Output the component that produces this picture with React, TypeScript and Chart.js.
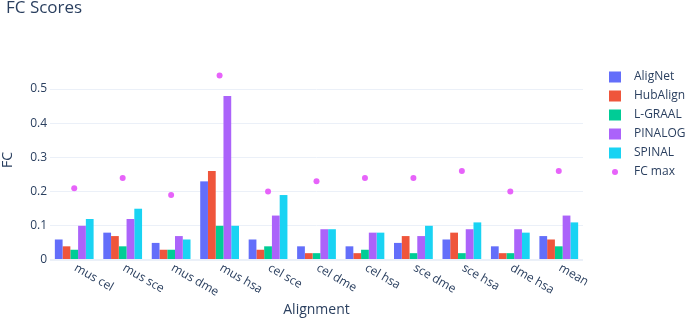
import React, { useEffect, useRef } from "react";
import { Chart, registerables } from "chart.js";

Chart.register(...registerables);

const categories = ["mus cel", "mus sce", "mus dme", "mus hsa", "cel sce", "cel dme", "cel hsa", "sce dme", "sce hsa", "dme hsa", "mean"];
const aligNet = [0.06, 0.08, 0.05, 0.23, 0.06, 0.04, 0.04, 0.05, 0.06, 0.04, 0.07];
const hubAlign = [0.04, 0.07, 0.03, 0.26, 0.03, 0.02, 0.02, 0.07, 0.08, 0.02, 0.06];
const lGraal = [0.03, 0.04, 0.03, 0.10, 0.04, 0.02, 0.03, 0.02, 0.02, 0.02, 0.04];
const pinalog = [0.10, 0.12, 0.07, 0.48, 0.13, 0.09, 0.08, 0.07, 0.09, 0.09, 0.13];
const spinal = [0.12, 0.15, 0.06, 0.10, 0.19, 0.09, 0.08, 0.10, 0.11, 0.08, 0.11];
const fcMax = [0.21, 0.24, 0.19, 0.54, 0.20, 0.23, 0.24, 0.24, 0.26, 0.20, 0.26];
const yTicks = [0, 0.1, 0.2, 0.3, 0.4, 0.5];
const yTickLabels = ["0", "0.1", "0.2", "0.3", "0.4", "0.5"];

const TITLE = "FC Scores";
const X_TITLE = "Alignment";
const Y_TITLE = "FC";

const FONT = '"Open Sans", verdana, arial, sans-serif';
const TEXT = "#2a3f5f";
const GRID = "#ebf0f8";

const decor = {
  id: "decor",
  afterDraw(chart: any) {
    const ctx = chart.ctx;
    const area = chart.chartArea;
    const xs = chart.scales.x;
    ctx.save();
    ctx.fillStyle = TEXT;

    // Title
    ctx.font = `17px ${FONT}`;
    ctx.textAlign = "left";
    ctx.textBaseline = "alphabetic";
    ctx.fillText(TITLE, 6, 13);

    // X tick labels rotated 30deg
    ctx.font = `12px ${FONT}`;
    categories.forEach((c, i) => {
      const x = xs.getPixelForTick(i);
      ctx.save();
      ctx.translate(x + 1, area.bottom + 7);
      ctx.rotate(Math.PI / 6);
      ctx.textAlign = "left";
      ctx.textBaseline = "middle";
      ctx.fillText(c, 0, 0);
      ctx.restore();
    });

    // X title
    ctx.font = `14px ${FONT}`;
    ctx.textAlign = "center";
    ctx.textBaseline = "alphabetic";
    ctx.fillText(X_TITLE, (area.left + area.right) / 2, 314);

    // Y title
    ctx.save();
    ctx.translate(8, (area.top + area.bottom) / 2);
    ctx.rotate(-Math.PI / 2);
    ctx.textAlign = "center";
    ctx.textBaseline = "middle";
    ctx.fillText(Y_TITLE, 0, 0);
    ctx.restore();

    // Legend
    ctx.font = `12px ${FONT}`;
    ctx.textAlign = "left";
    ctx.textBaseline = "middle";
    chart.data.datasets.forEach((ds: any, i: number) => {
      const y = 77 + 19 * i;
      if (ds.type === "line") {
        ctx.fillStyle = ds.pointBackgroundColor;
        ctx.beginPath();
        ctx.arc(615, y, 3, 0, Math.PI * 2);
        ctx.fill();
      } else {
        ctx.fillStyle = ds.backgroundColor;
        ctx.fillRect(609, y - 5.5, 12, 11);
      }
      ctx.fillStyle = TEXT;
      ctx.fillText(ds.label, 634, y);
    });

    ctx.restore();
  },
};

export default function App() {
  const ref = useRef<HTMLCanvasElement>(null);
  useEffect(() => {
    document.body.style.margin = "0";
    const chart = new Chart(ref.current!, {
      type: "bar",
      data: {
        labels: categories,
        datasets: [
          { label: "AligNet", data: aligNet, backgroundColor: "#636efa" },
          { label: "HubAlign", data: hubAlign, backgroundColor: "#ef553b" },
          { label: "L-GRAAL", data: lGraal, backgroundColor: "#00cc96" },
          { label: "PINALOG", data: pinalog, backgroundColor: "#ab63fa" },
          { label: "SPINAL", data: spinal, backgroundColor: "#19d3f3" },
          {
            type: "line",
            label: "FC max",
            data: fcMax,
            showLine: false,
            pointRadius: 3,
            pointBorderWidth: 0,
            pointBackgroundColor: "#e763fa",
            borderColor: "#e763fa",
            backgroundColor: "#e763fa",
          } as any,
        ],
      },
      options: {
        responsive: false,
        animation: false,
        devicePixelRatio: 1,
        layout: { padding: { top: 60, right: 102, left: 0, bottom: 0 } },
        datasets: { bar: { categoryPercentage: 0.8, barPercentage: 1.0 } } as any,
        plugins: { legend: { display: false }, tooltip: { enabled: false }, title: { display: false } },
        scales: {
          x: {
            type: "category",
            grid: { display: false },
            border: { display: false },
            ticks: { display: false },
            afterFit: (s: any) => { s.height = 58; },
          },
          y: {
            min: 0,
            max: 0.585,
            border: { display: false },
            grid: {
              color: GRID,
              drawTicks: false,
              lineWidth: (c: any) => (c.tick && c.tick.value === 0 ? 2 : 1),
            },
            afterBuildTicks: (s: any) => { s.ticks = yTicks.map((v) => ({ value: v })); },
            afterFit: (s: any) => { s.width = 50; },
            ticks: {
              padding: 3,
              color: TEXT,
              font: { family: FONT, size: 12 },
              callback: (v: any) => {
                const i = yTicks.findIndex((t) => Math.abs(t - Number(v)) < 1e-9);
                return i >= 0 ? yTickLabels[i] : "";
              },
            },
          },
        },
      },
      plugins: [decor],
    });
    return () => chart.destroy();
  }, []);
  return <canvas ref={ref} width={685} height={318} style={{ display: "block", width: 685, height: 318 }} />;
}
